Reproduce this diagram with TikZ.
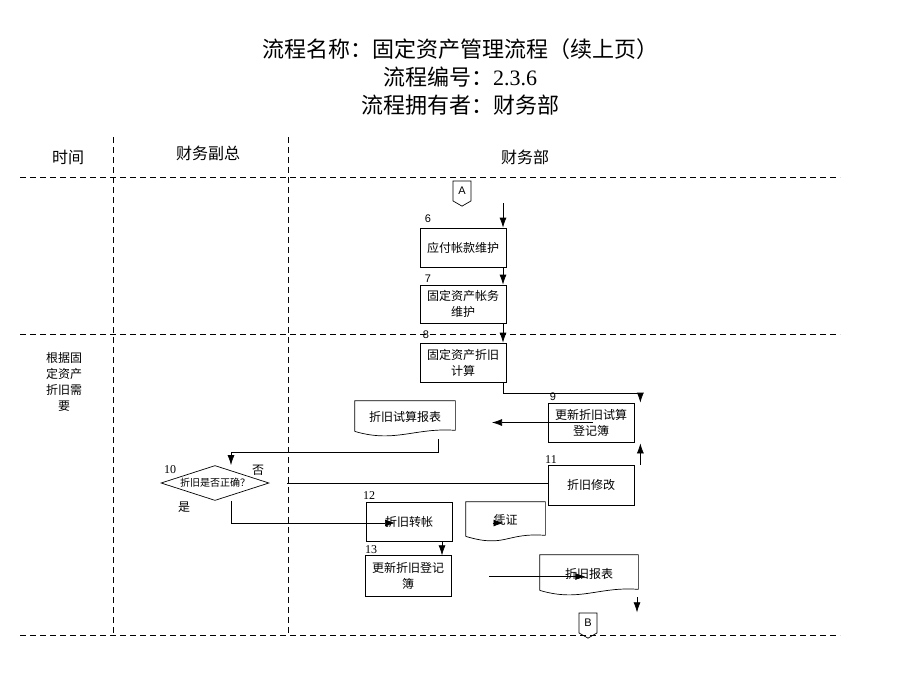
\documentclass[tikz,border=0pt]{standalone}
\usepackage{fontspec}
\setmainfont{Liberation Serif}
\newfontfamily\cjk{Noto Sans CJK SC}
\newfontfamily\arialfont{Liberation Sans}
\usetikzlibrary{shapes.geometric,shapes.symbols,arrows.meta}
\newcommand\docwave[1]{%
\draw ([yshift=2pt]#1.south west) -- (#1.north west) -- (#1.north east) -- ([yshift=3pt]#1.south east)
  .. controls ([xshift=-40pt,yshift=6pt]#1.south east) and ([xshift=40pt,yshift=-10pt]#1.south west) .. ([yshift=2pt]#1.south west);}
\begin{document}
\begin{tikzpicture}[x=1pt, y=-1pt, line width=0.7pt, font=\cjk\fontsize{12}{16}\selectfont,
  lane/.style={line width=0.9pt, dash pattern=on 6pt off 4pt},
  proc/.style={draw, minimum width=86pt, minimum height=39pt, align=center, inner sep=1pt},
  doc/.style={minimum height=34pt, align=center, inner sep=1pt},
  dec/.style={draw, diamond, aspect=3.2, inner sep=0pt, minimum width=108pt, minimum height=35pt,
    font=\cjk\fontsize{10}{12}\selectfont},
  offpage/.style={draw, signal, signal to=south, signal from=nowhere, signal pointer angle=120,
    minimum width=18pt, minimum height=22pt, inner sep=0pt, font=\arialfont\fontsize{11}{11}\selectfont},
  num/.style={font=\arialfont\fontsize{11}{11}\selectfont},
  numr/.style={font=\fontsize{12}{12}\selectfont},
  arr/.style={-{Latex[length=10pt,width=7pt]}}]
\useasboundingbox (0,0) rectangle (920,690);
\node[align=center, font=\fontsize{22}{28}\selectfont] (title) at (460,77)
  {{\cjk 流程名称：固定资产管理流程（续上页）}\\{\cjk 流程编号：}2.3.6\\{\cjk 流程拥有者：财务部}};
\node[font=\cjk\fontsize{16}{16}\selectfont] (h1) at (68,157) {时间};
\node[font=\cjk\fontsize{16}{16}\selectfont] (h2) at (208,153) {财务副总};
\node[font=\cjk\fontsize{16}{16}\selectfont] (h3) at (525,157) {财务部};
% lanes
\draw[lane] (20,177) -- (840,177);
\draw[lane] (20,334) -- (840,334);
\draw[lane] (20,635) -- (840,635);
\draw[lane] (113,137) -- (113,635);
\draw[lane] (288,137) -- (288,635);
\node[align=center] (t1) at (64,382) {根据固\\定资产\\折旧需\\要};
% steps
\node[offpage] (A) at (462,191) {A};
\coordinate (a0) at (503,203);
\node[proc] (b6) at (463,247.5) {应付帐款维护};
\node[proc, minimum height=38pt] (b7) at (463,304) {固定资产帐务\\维护};
\node[proc] (b8) at (463,362.5) {固定资产折旧\\计算};
\node[proc] (b9) at (591,422.5) {更新折旧试算\\登记簿};
\node[doc, minimum width=100pt, minimum height=32pt] (d1) at (405,417) {折旧试算报表};
\node[dec] (q10) at (215,483) {折旧是否正确？};
\node[proc, minimum height=40pt] (b11) at (591,485) {折旧修改};
\node[proc] (b12) at (409,521.5) {折旧转帐};
\node[doc, minimum width=79pt, minimum height=36pt] (d2) at (505.5,520) {凭证};
\node[proc, minimum height=41pt] (b13) at (408,575.5) {更新折旧登记\\簿};
\node[doc, minimum width=98pt, minimum height=37pt] (d3) at (589,573.5) {折旧报表};
\node[offpage] (B) at (588,623) {B};
\docwave{d1}
\docwave{d2}
\docwave{d3}
\node[num] at (428,219) {6};
\node[num] at (428,279) {7};
\node[num] at (426,335) {8};
\node[num] at (553,397) {9};
\node[numr] at (170,470) {10};
\node[numr] at (551,460) {11};
\node[numr] at (369,496) {12};
\node[numr] at (371,550) {13};
\node (no) at (258,470) {否};
\node (yes) at (184,507) {是};
% flow
\draw[arr] (a0) -- (a0 |- b6.north);
\draw[arr] ([xshift=40pt]b6.south) -- ([xshift=40pt]b7.north);
\draw[arr] ([xshift=40pt]b7.south) -- ([xshift=40pt]b8.north);
\draw[arr] ([xshift=40pt]b8.south) -- ++(0,11) -| ([xshift=6pt]b9.north east);
\draw[arr] ([xshift=2pt]b9.center) -- ++(-101,0);
\draw[arr] ([xshift=33pt,yshift=-6pt]d1.south) |- ([xshift=16pt,yshift=13pt]q10.north) -- ([xshift=16pt]q10.north);
\draw ([yshift=2pt]b11.west) -- ++(-261,0);
\draw[arr] ([xshift=6pt]b11.north east) -- ([xshift=6pt,yshift=-1pt]b9.south east);
\draw[arr] ([xshift=16pt]q10.south) |- ([xshift=-14pt,yshift=-1.5pt]b12.center);
\draw[arr] ([shift={(-13pt,-3pt)}]d2.center) -- ++(11,0);
\draw[arr] ([xshift=33pt]b12.south) -- ++(0,14);
\draw[arr] ([xshift=38pt,yshift=-1pt]b13.east) -- ++(96,0);
\draw[arr] ([shift={(48pt,-5pt)}]d3.south) -- ++(0,15);
\end{tikzpicture}
\end{document}
